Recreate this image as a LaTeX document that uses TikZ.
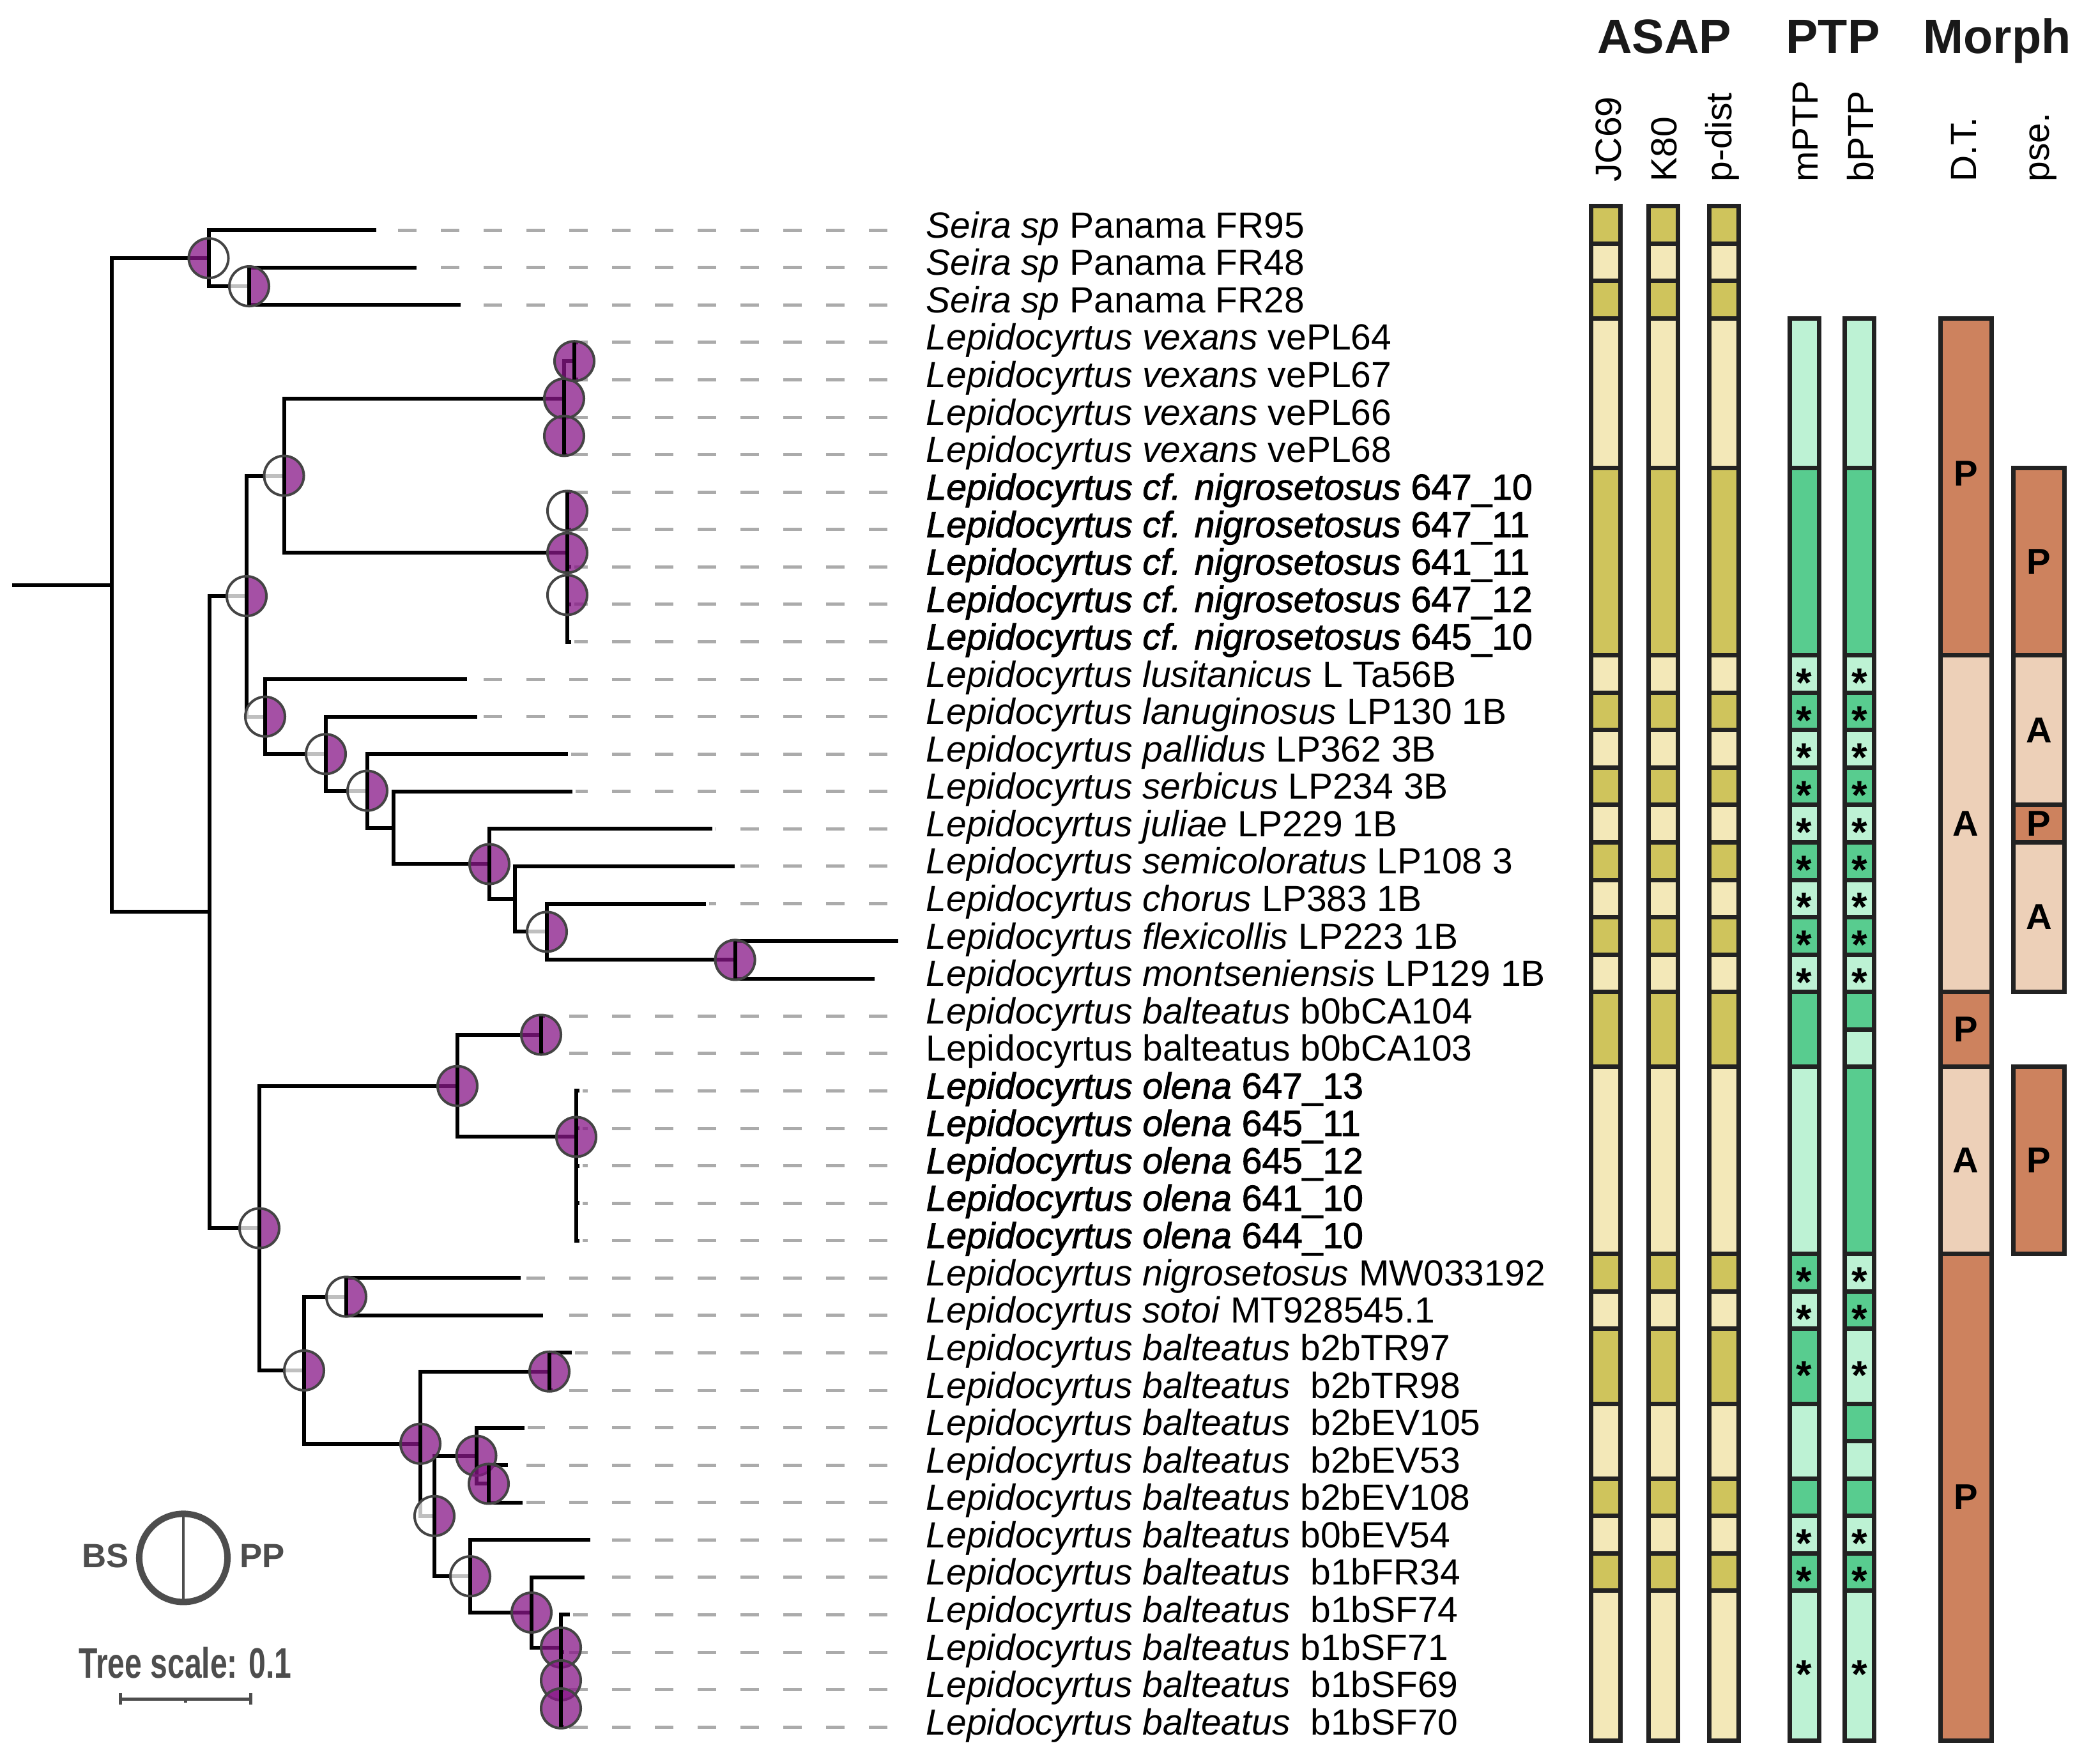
\documentclass[tikz,border=0pt]{standalone}
\usepackage{fontspec}
\setmainfont{Liberation Sans}
\newfontfamily\fakebf[FakeBold=1.6]{Liberation Sans}
\usepackage{graphicx}

\definecolor{olv}{HTML}{CFC45C}
\definecolor{crm}{HTML}{F3E8B8}
\definecolor{grd}{HTML}{58CC8F}
\definecolor{grl}{HTML}{BDF2D4}
\definecolor{orn}{HTML}{CD825E}
\definecolor{pch}{HTML}{EDD0B8}
\definecolor{bspur}{HTML}{881688}
\definecolor{rimgray}{HTML}{444444}
\definecolor{dashgray}{HTML}{ABABAB}
\definecolor{leggray}{HTML}{4D4D4D}
\definecolor{cellink}{HTML}{222222}

\tikzset{
  branch/.style={line width=0.06cm, line cap=rect, line join=miter},
  lead/.style={draw=dashgray, line width=0.05cm, dash pattern=on 0.29cm off 0.38cm, shorten >=0.08cm},
  bsyes/.style={fill=bspur, fill opacity=0.75},
  bsno/.style={fill=white, fill opacity=0.75},
  rim/.style={draw=rimgray, line width=0.04cm},
  divider/.style={line width=0.06cm},
  taxon/.style={anchor=base west, inner sep=0pt, yshift=-0.12cm, font=\fontsize{16.2}{19}\selectfont},
  grouphead/.style={anchor=base, inner sep=0pt, text=black!90, font=\bfseries\fontsize{21.5}{24}\selectfont},
  colhead/.style={rotate=90, anchor=base west, inner sep=0pt, font=\fontsize{16.2}{19}\selectfont},
  cellrim/.style={draw=cellink, line width=0.07cm},
  astk/.style={inner sep=0pt, yshift=-0.15cm, font=\bfseries\fontsize{18}{20}\selectfont},
  mlet/.style={inner sep=0pt, font=\bfseries\fontsize{16}{19}\selectfont},
  legtxt/.style={inner sep=0pt, text=leggray, font=\bfseries\fontsize{15}{18}\selectfont},
  scaletxt/.style={anchor=base, inner sep=0pt, text=leggray, font=\bfseries\fontsize{19}{22}\selectfont},
  legrim/.style={draw=leggray, line width=0.1cm},
  legdiv/.style={draw=leggray, line width=0.045cm},
  sbar/.style={draw=leggray, line width=0.05cm},
}

% support symbol: left half BS, right half PP
\newcommand{\bsmark}[3]{%
  \fill[#2] ([yshift=0.31cm]#1) arc[start angle=90,end angle=270,radius=0.31cm] -- cycle;
  \fill[#3] ([yshift=-0.31cm]#1) arc[start angle=-90,end angle=90,radius=0.31cm] -- cycle;
  \draw[divider] ([yshift=0.31cm]#1) -- ([yshift=-0.31cm]#1);
  \draw[rim] (#1) circle[radius=0.31cm];
}

\begin{document}
\begin{tikzpicture}[x=0.01cm, y=-0.5854cm]
  \useasboundingbox (0,-5.1497) rectangle (3273,41.98);
  \fill[white] (0,-5.1497) rectangle (3273,41.98);

  % internal nodes (x = branch length, y = row)
  \coordinate (root0) at (22,10.49);
  \coordinate (R0) at (175,10.49);
  \coordinate (S1) at (326.5,1.75);
  \coordinate (S2) at (390,2.5);
  \coordinate (MC) at (328,19.22);
  \coordinate (A) at (386,10.78);
  \coordinate (B) at (444.5,7.5625);
  \coordinate (V0) at (883,5.5);
  \coordinate (V1) at (899,4.5);
  \coordinate (V2) at (883,6.5);
  \coordinate (NG) at (888,9.625);
  \coordinate (NGa) at (888,8.5);
  \coordinate (NGb) at (888,10.75);
  \coordinate (NGc) at (888,11.5);
  \coordinate (N1) at (415,14.0);
  \coordinate (N2) at (510,15.0);
  \coordinate (N3) at (575,15.98);
  \coordinate (N4) at (616,16.97);
  \coordinate (N5) at (766,17.94);
  \coordinate (N6) at (805.5,18.875);
  \coordinate (N7) at (856,19.75);
  \coordinate (N8) at (1150.6,20.5);
  \coordinate (C) at (406,27.67);
  \coordinate (D) at (716,23.87);
  \coordinate (E) at (847,22.5);
  \coordinate (F) at (902,25.23);
  \coordinate (H) at (476,31.47);
  \coordinate (G) at (542,29.5);
  \coordinate (I) at (658,33.43);
  \coordinate (J) at (860,31.5);
  \coordinate (L) at (680,35.36);
  \coordinate (K) at (745.5,33.75);
  \coordinate (K2) at (765,34.5);
  \coordinate (M) at (736,36.97);
  \coordinate (N) at (832,37.94);
  \coordinate (O) at (878,38.875);
  \coordinate (O2) at (878,39.75);
  \coordinate (O3) at (878,40.5);

  % leaf tips
  \coordinate (t1) at (585.5,1);
  \coordinate (t2) at (649,2);
  \coordinate (t3) at (717.5,3);
  \coordinate (t4) at (902,4);
  \coordinate (t5) at (902,5);
  \coordinate (t6) at (885,6);
  \coordinate (t7) at (885,7);
  \coordinate (t8) at (891,8);
  \coordinate (t9) at (891,9);
  \coordinate (t10) at (891,10);
  \coordinate (t11) at (891,11);
  \coordinate (t12) at (891,12);
  \coordinate (t13) at (727.6,13);
  \coordinate (t14) at (743.7,14);
  \coordinate (t15) at (886,15);
  \coordinate (t16) at (893,16);
  \coordinate (t17) at (1112,17);
  \coordinate (t18) at (1147,18);
  \coordinate (t19) at (1101.5,19);
  \coordinate (t20) at (1403,20);
  \coordinate (t21) at (1366,21);
  \coordinate (t22) at (850,22);
  \coordinate (t23) at (849,23);
  \coordinate (t24) at (904,24);
  \coordinate (t25) at (904,25);
  \coordinate (t26) at (904,26);
  \coordinate (t27) at (904,27);
  \coordinate (t28) at (904,28);
  \coordinate (t29) at (812,29);
  \coordinate (t30) at (847,30);
  \coordinate (t31) at (892,31);
  \coordinate (t32) at (862,32);
  \coordinate (t33) at (818,33);
  \coordinate (t34) at (792,34);
  \coordinate (t35) at (815,35);
  \coordinate (t36) at (921,36);
  \coordinate (t37) at (912,37);
  \coordinate (t38) at (889,38);
  \coordinate (t39) at (880,39);
  \coordinate (t40) at (880,40);
  \coordinate (t41) at (880,41);

  % dashed leaders
  \foreach \i in {1,...,41}
    \coordinate (d\i) at (1389,\i);
  \foreach \i in {1,...,19}
    \draw[lead] (d\i) -- (t\i);
  \foreach \i in {22,...,41}
    \draw[lead] (d\i) -- (t\i);

  \begin{scope}[branch]
    \draw (root0) -- (R0);
    \draw (R0) |- (S1);
    \draw (R0) |- (MC);
    \draw (S1) |- (t1);
    \draw (S1) |- (S2);
    \draw (S2) |- (t2);
    \draw (S2) |- (t3);
    \draw (MC) |- (A);
    \draw (MC) |- (C);
    \draw (A) |- (B);
    \draw (A) |- (N1);
    \draw (B) |- (V0);
    \draw (B) |- (NG);
    \draw (V0) |- (V1);
    \draw (V0) |- (V2);
    \draw (V1) |- (t4);
    \draw (V1) |- (t5);
    \draw (V2) |- (t6);
    \draw (V2) |- (t7);
    \draw (NG) |- (NGa);
    \draw (NG) |- (NGb);
    \draw (NGa) |- (t8);
    \draw (NGa) |- (t9);
    \draw (NGb) |- (t10);
    \draw (NGb) |- (NGc);
    \draw (NGc) |- (t11);
    \draw (NGc) |- (t12);
    \draw (N1) |- (t13);
    \draw (N1) |- (N2);
    \draw (N2) |- (t14);
    \draw (N2) |- (N3);
    \draw (N3) |- (t15);
    \draw (N3) |- (N4);
    \draw (N4) |- (t16);
    \draw (N4) |- (N5);
    \draw (N5) |- (t17);
    \draw (N5) |- (N6);
    \draw (N6) |- (t18);
    \draw (N6) |- (N7);
    \draw (N7) |- (t19);
    \draw (N7) |- (N8);
    \draw (N8) |- (t20);
    \draw (N8) |- (t21);
    \draw (C) |- (D);
    \draw (C) |- (H);
    \draw (D) |- (E);
    \draw (D) |- (F);
    \draw (E) |- (t22);
    \draw (E) |- (t23);
    \draw (F) |- (t24);
    \draw (F) |- (t25);
    \draw (F) |- (t26);
    \draw (F) |- (t27);
    \draw (F) |- (t28);
    \draw (H) |- (G);
    \draw (H) |- (I);
    \draw (G) |- (t29);
    \draw (G) |- (t30);
    \draw (I) |- (J);
    \draw (I) |- (L);
    \draw (J) |- (t31);
    \draw (J) |- (t32);
    \draw (L) |- (K);
    \draw (L) |- (M);
    \draw (K) |- (t33);
    \draw (K) |- (K2);
    \draw (K2) |- (t34);
    \draw (K2) |- (t35);
    \draw (M) |- (t36);
    \draw (M) |- (N);
    \draw (N) |- (t37);
    \draw (N) |- (O);
    \draw (O) |- (t38);
    \draw (O) |- (O2);
    \draw (O2) |- (t39);
    \draw (O2) |- (O3);
    \draw (O3) |- (t40);
    \draw (O3) |- (t41);
  \end{scope}

  % support values
  \bsmark{S1}{bsyes}{bsno}
  \bsmark{S2}{bsno}{bsyes}
  \bsmark{A}{bsno}{bsyes}
  \bsmark{B}{bsno}{bsyes}
  \bsmark{V0}{bsyes}{bsyes}
  \bsmark{V1}{bsyes}{bsyes}
  \bsmark{V2}{bsyes}{bsyes}
  \bsmark{NG}{bsyes}{bsyes}
  \bsmark{NGa}{bsno}{bsyes}
  \bsmark{NGb}{bsno}{bsyes}
  \bsmark{N1}{bsno}{bsyes}
  \bsmark{N2}{bsno}{bsyes}
  \bsmark{N3}{bsno}{bsyes}
  \bsmark{N5}{bsyes}{bsyes}
  \bsmark{N7}{bsno}{bsyes}
  \bsmark{N8}{bsyes}{bsyes}
  \bsmark{C}{bsno}{bsyes}
  \bsmark{D}{bsyes}{bsyes}
  \bsmark{E}{bsyes}{bsyes}
  \bsmark{F}{bsyes}{bsyes}
  \bsmark{H}{bsno}{bsyes}
  \bsmark{G}{bsno}{bsyes}
  \bsmark{I}{bsyes}{bsyes}
  \bsmark{J}{bsyes}{bsyes}
  \bsmark{L}{bsno}{bsyes}
  \bsmark{K}{bsyes}{bsyes}
  \bsmark{K2}{bsyes}{bsyes}
  \bsmark{M}{bsno}{bsyes}
  \bsmark{N}{bsyes}{bsyes}
  \bsmark{O}{bsyes}{bsyes}
  \bsmark{O2}{bsyes}{bsyes}
  \bsmark{O3}{bsyes}{bsyes}

  % taxa
  \node[taxon] (l1) at (1449,1) {\textit{Seira sp} Panama FR95};
  \node[taxon] (l2) at (1449,2) {\textit{Seira sp} Panama FR48};
  \node[taxon] (l3) at (1449,3) {\textit{Seira sp} Panama FR28};
  \node[taxon] (l4) at (1449,4) {\textit{Lepidocyrtus vexans} vePL64};
  \node[taxon] (l5) at (1449,5) {\textit{Lepidocyrtus vexans} vePL67};
  \node[taxon] (l6) at (1449,6) {\textit{Lepidocyrtus vexans} vePL66};
  \node[taxon] (l7) at (1449,7) {\textit{Lepidocyrtus vexans} vePL68};
  \node[taxon] (l8) at (1449,8) {\fakebf\textit{Lepidocyrtus cf. nigrosetosus} 647\_10};
  \node[taxon] (l9) at (1449,9) {\fakebf\textit{Lepidocyrtus cf. nigrosetosus} 647\_11};
  \node[taxon] (l10) at (1449,10) {\fakebf\textit{Lepidocyrtus cf. nigrosetosus} 641\_11};
  \node[taxon] (l11) at (1449,11) {\fakebf\textit{Lepidocyrtus cf. nigrosetosus} 647\_12};
  \node[taxon] (l12) at (1449,12) {\fakebf\textit{Lepidocyrtus cf. nigrosetosus} 645\_10};
  \node[taxon] (l13) at (1449,13) {\textit{Lepidocyrtus lusitanicus} L Ta56B};
  \node[taxon] (l14) at (1449,14) {\textit{Lepidocyrtus lanuginosus} LP130 1B};
  \node[taxon] (l15) at (1449,15) {\textit{Lepidocyrtus pallidus} LP362 3B};
  \node[taxon] (l16) at (1449,16) {\textit{Lepidocyrtus serbicus} LP234 3B};
  \node[taxon] (l17) at (1449,17) {\textit{Lepidocyrtus juliae} LP229 1B};
  \node[taxon] (l18) at (1449,18) {\textit{Lepidocyrtus semicoloratus} LP108 3};
  \node[taxon] (l19) at (1449,19) {\textit{Lepidocyrtus chorus} LP383 1B};
  \node[taxon] (l20) at (1449,20) {\textit{Lepidocyrtus flexicollis} LP223 1B};
  \node[taxon] (l21) at (1449,21) {\textit{Lepidocyrtus montseniensis} LP129 1B};
  \node[taxon] (l22) at (1449,22) {\textit{Lepidocyrtus balteatus} b0bCA104};
  \node[taxon] (l23) at (1449,23) {Lepidocyrtus balteatus b0bCA103};
  \node[taxon] (l24) at (1449,24) {\fakebf\textit{Lepidocyrtus olena} 647\_13};
  \node[taxon] (l25) at (1449,25) {\fakebf\textit{Lepidocyrtus olena} 645\_11};
  \node[taxon] (l26) at (1449,26) {\fakebf\textit{Lepidocyrtus olena} 645\_12};
  \node[taxon] (l27) at (1449,27) {\fakebf\textit{Lepidocyrtus olena} 641\_10};
  \node[taxon] (l28) at (1449,28) {\fakebf\textit{Lepidocyrtus olena} 644\_10};
  \node[taxon] (l29) at (1449,29) {\textit{Lepidocyrtus nigrosetosus} MW033192};
  \node[taxon] (l30) at (1449,30) {\textit{Lepidocyrtus sotoi} MT928545.1};
  \node[taxon] (l31) at (1449,31) {\textit{Lepidocyrtus balteatus} b2bTR97};
  \node[taxon] (l32) at (1449,32) {\textit{Lepidocyrtus balteatus}~~b2bTR98};
  \node[taxon] (l33) at (1449,33) {\textit{Lepidocyrtus balteatus}~~b2bEV105};
  \node[taxon] (l34) at (1449,34) {\textit{Lepidocyrtus balteatus}~~b2bEV53};
  \node[taxon] (l35) at (1449,35) {\textit{Lepidocyrtus balteatus} b2bEV108};
  \node[taxon] (l36) at (1449,36) {\textit{Lepidocyrtus balteatus} b0bEV54};
  \node[taxon] (l37) at (1449,37) {\textit{Lepidocyrtus balteatus}~~b1bFR34};
  \node[taxon] (l38) at (1449,38) {\textit{Lepidocyrtus balteatus}~~b1bSF74};
  \node[taxon] (l39) at (1449,39) {\textit{Lepidocyrtus balteatus} b1bSF71};
  \node[taxon] (l40) at (1449,40) {\textit{Lepidocyrtus balteatus}~~b1bSF69};
  \node[taxon] (l41) at (1449,41) {\textit{Lepidocyrtus balteatus}~~b1bSF70};

  % headers
  \node[grouphead] (hasap) at (2605,-3.73) {ASAP};
  \node[grouphead] (hptp) at (2869,-3.73) {PTP};
  \node[grouphead] (hmorph) at (3126,-3.73) {Morph};
  \node[colhead] (cjc) at (2537,-0.28) {JC69};
  \node[colhead] (ckeighty) at (2624,-0.28) {K80};
  \node[colhead] (cpd) at (2710,-0.28) {p-dist};
  \node[colhead] (cmp) at (2845,-0.28) {mPTP};
  \node[colhead] (cbp) at (2932,-0.28) {bPTP};
  \node[colhead] (cdt) at (3093,-0.28) {D.T.};
  \node[colhead] (cpse) at (3207,-0.28) {pse.};

  % ASAP
  \foreach \xc in {2513.5,2603,2698.5}
    \foreach \ra/\rb/\cc in {1/1/olv,2/2/crm,3/3/olv,4/7/crm,8/12/olv,13/13/crm,14/14/olv,
        15/15/crm,16/16/olv,17/17/crm,18/18/olv,19/19/crm,20/20/olv,21/21/crm,22/23/olv,
        24/28/crm,29/29/olv,30/30/crm,31/32/olv,33/34/crm,35/35/olv,36/36/crm,37/37/olv,38/41/crm}
      \draw[cellrim, fill=\cc] (\xc-23,\ra-0.64) rectangle (\xc+23,\rb+0.36);

  % PTP
  \foreach \ra/\rb/\cc in {4/7/grl,8/12/grd,13/13/grl,14/14/grd,15/15/grl,16/16/grd,17/17/grl,
      18/18/grd,19/19/grl,20/20/grd,21/21/grl,22/23/grd,24/28/grl,29/29/grd,30/30/grl,
      31/32/grd,33/34/grl,35/35/grd,36/36/grl,37/37/grd,38/41/grl}
    \draw[cellrim, fill=\cc] (2824-23,\ra-0.64) rectangle (2824+23,\rb+0.36);
  \foreach \ra/\rb/\cc in {4/7/grl,8/12/grd,13/13/grl,14/14/grd,15/15/grl,16/16/grd,17/17/grl,
      18/18/grd,19/19/grl,20/20/grd,21/21/grl,22/22/grd,23/23/grl,24/28/grd,29/29/grl,
      30/30/grd,31/32/grl,33/33/grd,34/34/grl,35/35/grd,36/36/grl,37/37/grd,38/41/grl}
    \draw[cellrim, fill=\cc] (2910.5-23,\ra-0.64) rectangle (2910.5+23,\rb+0.36);
  \foreach \r [count=\k] in {13,14,15,16,17,18,19,20,21,29,30,31.5,36,37,39.5}
    \node[astk] (ms\k) at (2824,\r-0.16) {*};
  \foreach \r [count=\k] in {13,14,15,16,17,18,19,20,21,29,30,31.5,36,37,39.5}
    \node[astk] (bs\k) at (2910.5,\r-0.16) {*};

  % Morph
  \foreach \ra/\rb/\cc in {4/12/orn,13/21/pch,22/23/orn,24/28/pch,29/41/orn}
    \draw[cellrim, fill=\cc] (3077-40,\ra-0.64) rectangle (3077+40,\rb+0.36);
  \foreach \ra/\rb/\cc in {8/12/orn,13/16/pch,17/17/orn,18/21/pch,24/28/orn}
    \draw[cellrim, fill=\cc] (3191.5-40,\ra-0.64) rectangle (3191.5+40,\rb+0.36);
  \node[mlet] (dt1) at (3077,7.5) {P};
  \node[mlet] (dt2) at (3077,16.86) {A};
  \node[mlet] (dt3) at (3077,22.36) {P};
  \node[mlet] (dt4) at (3077,25.86) {A};
  \node[mlet] (dt5) at (3077,34.86) {P};
  \node[mlet] (ps1) at (3191.5,9.86) {P};
  \node[mlet] (ps2) at (3191.5,14.36) {A};
  \node[mlet] (ps3) at (3191.5,16.86) {P};
  \node[mlet] (ps4) at (3191.5,19.36) {A};
  \node[mlet] (ps5) at (3191.5,25.86) {P};

  % legend
  \coordinate (lg) at (287,36.48);
  \draw[legrim] (lg) circle[radius=0.69cm];
  \draw[legdiv] ([yshift=0.69cm]lg) -- ([yshift=-0.69cm]lg);
  \node[legtxt, anchor=east] (lbs) at (202,36.43) {BS};
  \node[legtxt, anchor=west] (lpp) at (375,36.43) {PP};
  \node[scaletxt] (tsc) at (290,39.69) {\scalebox{0.72}[1]{Tree scale: 0.1}};
  \coordinate (sba) at (188,40.25);
  \coordinate (sbb) at (392,40.25);
  \coordinate (sbm) at (290,40.25);
  \draw[sbar] (sba) -- (sbb);
  \draw[sbar] ([yshift=0.09cm]sba) -- ([yshift=-0.09cm]sba);
  \draw[sbar] ([yshift=0.09cm]sbb) -- ([yshift=-0.09cm]sbb);
  \draw[sbar] (sbm) -- ([yshift=-0.06cm]sbm);
\end{tikzpicture}
\end{document}
